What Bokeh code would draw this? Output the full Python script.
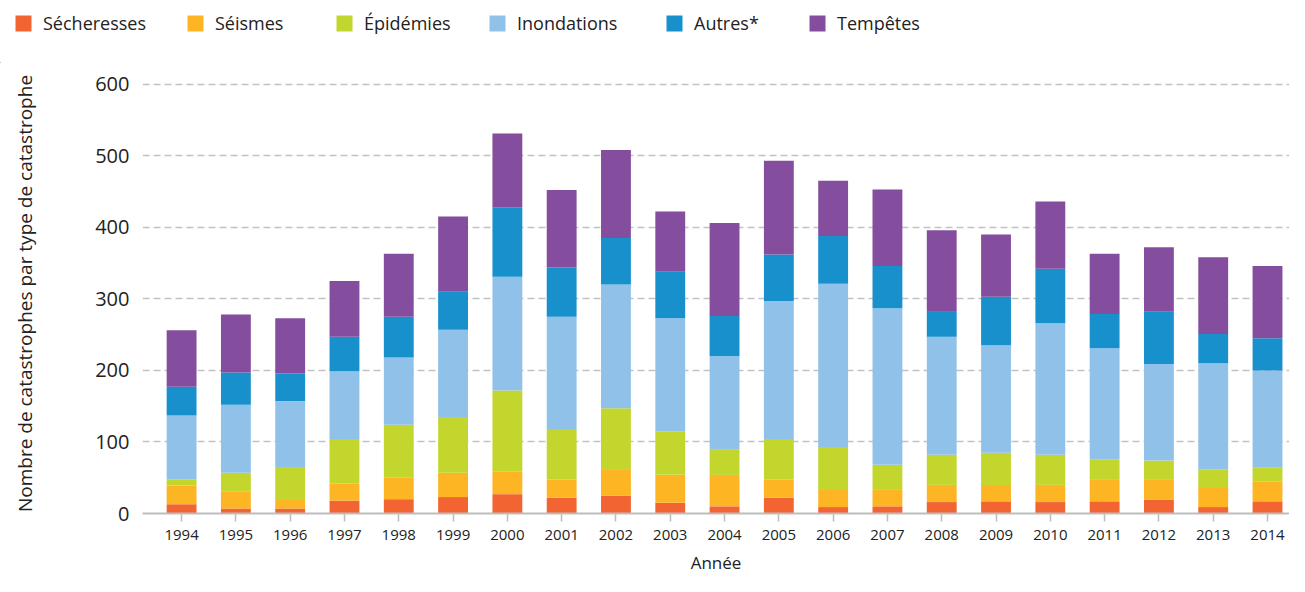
from bokeh.plotting import figure
from bokeh.models import ColumnDataSource, Legend, LegendItem, Range1d, FixedTicker
from bokeh.layouts import column
from bokeh.embed import file_html
from bokeh.resources import INLINE

years = [1994, 1995, 1996, 1997, 1998, 1999, 2000, 2001, 2002, 2003, 2004,
         2005, 2006, 2007, 2008, 2009, 2010, 2011, 2012, 2013, 2014]
secheresses = [13, 7, 7, 18, 20, 23, 27, 22, 25, 15, 10, 22, 9, 10, 16, 17, 16, 17, 19, 9, 17]
seismes = [26, 24, 12, 24, 30, 34, 32, 25, 37, 39, 44, 25, 24, 23, 24, 23, 24, 30, 29, 28, 28]
epidemies = [9, 26, 46, 62, 74, 78, 113, 71, 85, 61, 36, 57, 60, 35, 42, 45, 42, 28, 26, 24, 19]
inondations = [89, 95, 92, 95, 94, 122, 159, 157, 173, 158, 130, 193, 228, 219, 165, 150, 184, 156, 135, 149, 136]
autres = [40, 45, 39, 48, 57, 53, 97, 69, 65, 65, 56, 65, 67, 59, 36, 68, 76, 48, 73, 41, 45]
tempetes = [79, 81, 77, 78, 88, 105, 103, 108, 123, 84, 130, 131, 77, 107, 113, 87, 94, 84, 90, 107, 101]

series_keys = ["secheresses", "seismes", "epidemies", "inondations", "autres", "tempetes"]
series_labels = ["Sécheresses", "Séismes", "Épidémies", "Inondations", "Autres*", "Tempêtes"]
colors = ["#F26533", "#FDB524", "#C2D62E", "#90C2E9", "#1790CC", "#844D9E"]
y_ticks = [0, 100, 200, 300, 400, 500, 600]

source = ColumnDataSource(dict(year=years, secheresses=secheresses, seismes=seismes,
                               epidemies=epidemies, inondations=inondations,
                               autres=autres, tempetes=tempetes))

FONT = "Open Sans"
TXT = "#222222"
W = 1289

# ---- legend strip ----
lg = figure(width=W, height=63, output_backend="svg", toolbar_location=None,
            x_range=Range1d(0, W), y_range=Range1d(0, 63),
            min_border=0, outline_line_color=None, x_axis_type=None, y_axis_type=None)
lg.frame_align = False
lg.grid.visible = False
legend_x = [13, 185, 334, 487, 664, 807]
for lab, col, lx in zip(series_labels, colors, legend_x):
    # off-screen placeholder so the legend swatch gets drawn
    r = lg.vbar(x=[-1000], top=[1], width=1, color=col, line_color=None)
    leg = Legend(items=[LegendItem(label=lab, renderers=[r])], location=(lx, 28),
                 glyph_width=20, glyph_height=20, label_standoff=10,
                 padding=0, margin=0, border_line_color=None, background_fill_alpha=0,
                 label_text_font=FONT, label_text_font_size="18px", label_text_color=TXT,
                 label_height=20)
    lg.add_layout(leg)

# ---- main chart ----
p = figure(width=W, height=513, output_backend="svg", toolbar_location=None,
           x_range=Range1d(1993.28, 2014.405), y_range=Range1d(0, 615),
           min_border_left=142, min_border_right=0, min_border_top=10,
           min_border_bottom=63, outline_line_color=None)
p.frame_align = False

p.vbar_stack(series_keys, x="year", width=0.55, color=colors,
             line_color=None, source=source)

p.xgrid.grid_line_color = None
p.ygrid.ticker = FixedTicker(ticks=y_ticks[1:])
p.ygrid.grid_line_color = "#c2c2c2"
p.ygrid.grid_line_dash = "7 4"
p.ygrid.grid_line_width = 1.5

p.xaxis.ticker = FixedTicker(ticks=years)
p.xaxis.axis_line_color = "#bdbdbd"
p.xaxis.axis_line_width = 2
p.xaxis.major_tick_line_color = "#bdbdbd"
p.xaxis.major_tick_line_width = 1.5
p.xaxis.major_tick_out = 8
p.xaxis.major_tick_in = 0
p.xaxis.minor_tick_line_color = None
p.xaxis.major_label_text_font = FONT
p.xaxis.major_label_text_font_size = "15px"
p.xaxis.major_label_text_color = TXT
p.xaxis.major_label_standoff = 8
p.xaxis.axis_label = "Année"
p.xaxis.axis_label_text_font = FONT
p.xaxis.axis_label_text_font_size = "17px"
p.xaxis.axis_label_text_font_style = "normal"
p.xaxis.axis_label_text_color = TXT
p.xaxis.axis_label_standoff = 8

p.yaxis.ticker = FixedTicker(ticks=y_ticks)
p.yaxis.axis_line_color = None
p.yaxis.major_tick_line_color = None
p.yaxis.minor_tick_line_color = None
p.yaxis.major_label_text_font = FONT
p.yaxis.major_label_text_font_size = "20px"
p.yaxis.major_label_text_color = TXT
p.yaxis.major_label_standoff = 7
p.yaxis.axis_label = "Nombre de catastrophes par type de catastrophe"
p.yaxis.axis_label_text_font = FONT
p.yaxis.axis_label_text_font_size = "19px"
p.yaxis.axis_label_text_font_style = "normal"
p.yaxis.axis_label_text_color = TXT
p.yaxis.axis_label_standoff = 54

layout = column(lg, p, spacing=0)
open("out.html", "w").write(file_html(layout, INLINE))
